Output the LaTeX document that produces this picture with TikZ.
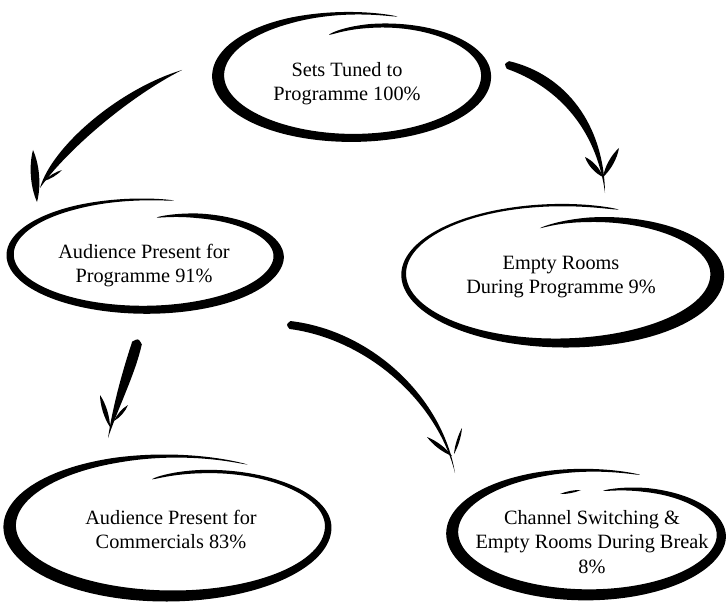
\documentclass[tikz,border=0pt]{standalone}
\usepackage{fontspec}
\setmainfont{Liberation Serif}
\usetikzlibrary{calc}

% Brush-stroke ring: a spiral band that starts inside at the top,
% runs clockwise once round and ends just above its own start.
% #1,#2 centre; #3,#4 radii; #5 start angle; #6 sweep;
% #7 widths: top, bottom, extra at the sides, left/right bias
\newcommand\brushring[7]{%
  \fill plot[domain=0:1,samples=280,variable=\t]
    ({#1+(rs(\t)*#3+0.5*rw(\t,#5-#6*\t,#7))*cos(#5-#6*\t)},
     {#2-(rs(\t)*#4+0.5*rw(\t,#5-#6*\t,#7))*sin(#5-#6*\t)})
  -- plot[domain=1:0,samples=280,variable=\t]
    ({#1+(rs(\t)*#3-0.5*rw(\t,#5-#6*\t,#7))*cos(#5-#6*\t)},
     {#2-(rs(\t)*#4-0.5*rw(\t,#5-#6*\t,#7))*sin(#5-#6*\t)})
  -- cycle;}

% Tapered brush shaft along a cubic curve
% #1 start, #2 #3 controls, #4 tip, #5 #6 #7 half-widths at start and controls
\newcommand\brushshaft[7]{%
  \fill ($(#1)!#5pt!90:(#2)$)
    .. controls ($(#2)!#6pt!90:(#3)$) and ($(#3)!#7pt!90:(#4)$) .. (#4)
    .. controls ($(#3)!#7pt!-90:(#4)$) and ($(#2)!#6pt!-90:(#3)$) .. ($(#1)!#5pt!-90:(#2)$)
    .. controls ($(#1)!#5pt!180:(#2)$) .. ($(#1)!#5pt!90:(#2)$) -- cycle;}

% One barb of an arrow head, pointed at both ends
\newcommand\brushbarb[3]{%
  \fill (#1)
    .. controls ($(#1)!0.3!(#2)!#3pt!90:(#2)$) and ($(#1)!0.7!(#2)!#3pt!90:(#2)$) .. (#2)
    .. controls ($(#1)!0.7!(#2)!#3pt!-90:(#2)$) and ($(#1)!0.3!(#2)!#3pt!-90:(#2)$) .. (#1)
    -- cycle;}

\begin{document}
\begin{tikzpicture}[x=1pt,y=-1pt,
  label text/.style={align=center,inner sep=0pt,
    font=\fontsize{20.3}{24.5}\selectfont},
  declare function={
    rs(\t)=1-0.3*max(0,1-\t/0.25)*max(0,1-\t/0.25)+0.03*\t;
    rw(\t,\a,\pa,\pb,\pc,\pd)=(\pa+(\pb-\pa)*(1-sin(\a))/2+\pc*cos(\a)*cos(\a)-\pd*cos(\a))
      *min(1,sqrt(max(0,\t/0.06)))*min(1,sqrt(max(0,(1-\t)/0.12)));
  }]
\useasboundingbox (0,0) rectangle (727,604);
\fill[white] (0,0) rectangle (727,604);

% ---- labels ----
\node[label text] (tuned)   at (347,83.5)  {Sets Tuned to\\Programme 100\%};
\node[label text] (present) at (144,265.5) {Audience Present for\\Programme 91\%};
\node[label text] (empty)   at (561,277)   {Empty Rooms\\During Programme 9\%};
\node[label text] (comm)    at (171,529.5) {Audience Present for\\Commercials 83\%};
\node[label text] (switch)  at (592,542)   {Channel Switching \&\\Empty Rooms During Break\\8\%};

% ---- rings ----
\brushring{353}{76}{132}{61}{105}{394}{4,8,5,1}
\brushring{145.5}{255}{132.5}{54}{83}{365}{3.5,8,3,-1.5}
\brushring{561.5}{274.5}{154.5}{67.5}{101.5}{392.5}{3.5,9,3,-4.5}
\brushring{170}{526.5}{157}{68.5}{99.4}{398}{4,11,2,3}
\brushring{588}{533}{133}{61}{80.7}{373}{4,11,3,1.5}
% short loose dash inside the last ring
\coordinate (d1) at (560,494);
\coordinate (d2) at (581,490);
\brushbarb{d1}{d2}{1.5}

% ---- arrows ----
% tuned -> present
\coordinate (a1s) at (182,70);
\coordinate (a1p) at (122,94);
\coordinate (a1q) at (58,150);
\coordinate (a1t) at (40,188);
\coordinate (a1l) at (33,150);
\coordinate (a1m) at (37,202);
\coordinate (a1r) at (62,170);
\coordinate (a1v) at (44,181);
\brushshaft{a1s}{a1p}{a1q}{a1t}{0}{6}{7}
\brushbarb{a1l}{a1m}{5.5}
\brushbarb{a1r}{a1v}{1.8}

% tuned -> empty
\coordinate (a2s) at (508,65);
\coordinate (a2p) at (560,80);
\coordinate (a2q) at (600,125);
\coordinate (a2t) at (605,193);
\coordinate (a2l) at (585,157);
\coordinate (a2m) at (603,177);
\coordinate (a2r) at (619,148);
\coordinate (a2v) at (603,177);
\brushshaft{a2s}{a2p}{a2q}{a2t}{4}{8}{4}
\brushbarb{a2l}{a2m}{3.5}
\brushbarb{a2r}{a2v}{3.5}

% present -> comm
\coordinate (a3s) at (137,343);
\coordinate (a3p) at (129,372);
\coordinate (a3q) at (116,405);
\coordinate (a3t) at (108,438);
\coordinate (a3l) at (100,395);
\coordinate (a3m) at (110,427);
\coordinate (a3r) at (128,405);
\coordinate (a3v) at (114,421);
\brushshaft{a3s}{a3p}{a3q}{a3t}{5}{6.5}{3}
\brushbarb{a3l}{a3m}{3}
\brushbarb{a3r}{a3v}{2.2}

% present -> switch
\coordinate (a4s) at (290,325);
\coordinate (a4p) at (370,335);
\coordinate (a4q) at (440,400);
\coordinate (a4t) at (455,473);
\coordinate (a4l) at (427,437);
\coordinate (a4m) at (452,456);
\coordinate (a4r) at (462,428);
\coordinate (a4v) at (454,454);
\brushshaft{a4s}{a4p}{a4q}{a4t}{4}{5.5}{3}
\brushbarb{a4l}{a4m}{2.8}
\brushbarb{a4r}{a4v}{1.8}
\end{tikzpicture}
\end{document}
